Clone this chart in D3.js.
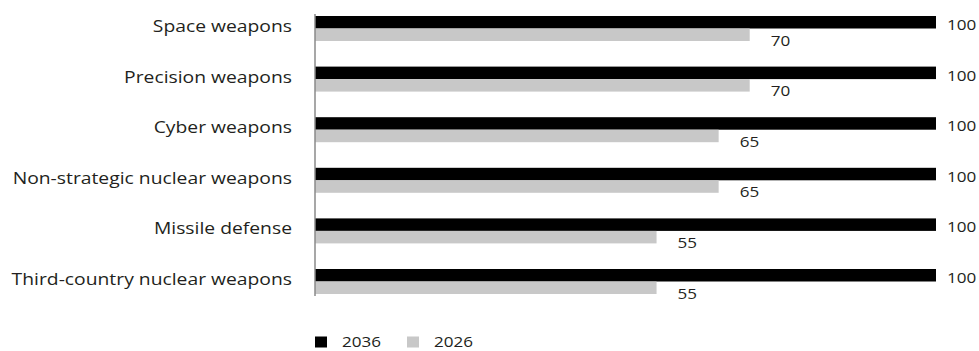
<!DOCTYPE html>
<html>
<head>
<meta charset="utf-8">
<script src="https://cdn.jsdelivr.net/npm/d3@7"></script>
<style>
  html, body { margin: 0; padding: 0; background: #fff; }
  svg { display: block; }
  text { font-family: "Open Sans", "Noto Sans", sans-serif; fill: #231f20; }
</style>
</head>
<body>
<svg id="chart" width="979" height="351"></svg>
<script>
// Weapon categories, top to bottom
const categories = [
  "Space weapons",
  "Precision weapons",
  "Cyber weapons",
  "Non-strategic nuclear weapons",
  "Missile defense",
  "Third-country nuclear weapons"
];
// Series, in the order drawn within each group
const seriesNames = ["2036", "2026"];
const values2036 = [100, 100, 100, 100, 100, 100];
const values2026 = [70, 70, 65, 65, 55, 55];
const seriesColors = ["#000000", "#c8c8c8"];

// Text is drawn slightly widened horizontally
const labelStretch = 1.245;
const numberStretch = 1.22;

const svg = d3.select("#chart");

const x = d3.scaleLinear().domain([0, 100]).range([315, 936]);

const y = d3.scaleBand()
  .domain(categories)
  .range([16, 294])
  .paddingInner(0.506)
  .paddingOuter(0);

const ySub = d3.scaleBand()
  .domain(seriesNames)
  .range([0, y.bandwidth()]);

const seriesValues = { "2036": values2036, "2026": values2026 };
const color = d3.scaleOrdinal().domain(seriesNames).range(seriesColors);

const rows = categories.map((c, i) => ({
  category: c,
  bars: seriesNames.map(s => ({ series: s, value: seriesValues[s][i] }))
}));

const groups = svg.append("g")
  .selectAll("g")
  .data(rows)
  .join("g")
  .attr("transform", d => `translate(0,${y(d.category)})`);

groups.selectAll("rect")
  .data(d => d.bars)
  .join("rect")
  .attr("x", x(0))
  .attr("y", d => ySub(d.series))
  .attr("width", d => x(d.value) - x(0))
  .attr("height", ySub.bandwidth())
  .attr("fill", d => color(d.series));

// Value labels
groups.selectAll("text.value")
  .data(d => d.bars)
  .join("text")
  .attr("class", "value")
  .attr("transform", d => {
    const tx = x(d.value) + (d.series === "2036" ? 11 : 21);
    const ty = d.series === "2036" ? 14 : 29.5;
    return `translate(${tx},${ty}) scale(${numberStretch},1)`;
  })
  .attr("font-size", 14)
  .text(d => d.value);

// Category labels
svg.append("g")
  .selectAll("text")
  .data(categories)
  .join("text")
  .attr("transform", d => `translate(292,${y(d) + 16}) scale(${labelStretch},1)`)
  .attr("text-anchor", "end")
  .attr("font-size", 15.5)
  .text(d => d);

// Vertical axis line
svg.append("line")
  .attr("x1", x(0)).attr("x2", x(0))
  .attr("y1", 14).attr("y2", 296)
  .attr("stroke", "#8a8a8a")
  .attr("stroke-width", 1.5);

// Legend
const legend = svg.append("g")
  .selectAll("g")
  .data(seriesNames)
  .join("g")
  .attr("transform", (d, i) => `translate(${315 + i * 92},336)`);

legend.append("rect")
  .attr("y", 0.5)
  .attr("width", 12).attr("height", 11)
  .attr("fill", d => color(d));

legend.append("text")
  .attr("transform", `translate(27,10.5) scale(${numberStretch},1)`)
  .attr("font-size", 14)
  .text(d => d);
</script>
</body>
</html>
